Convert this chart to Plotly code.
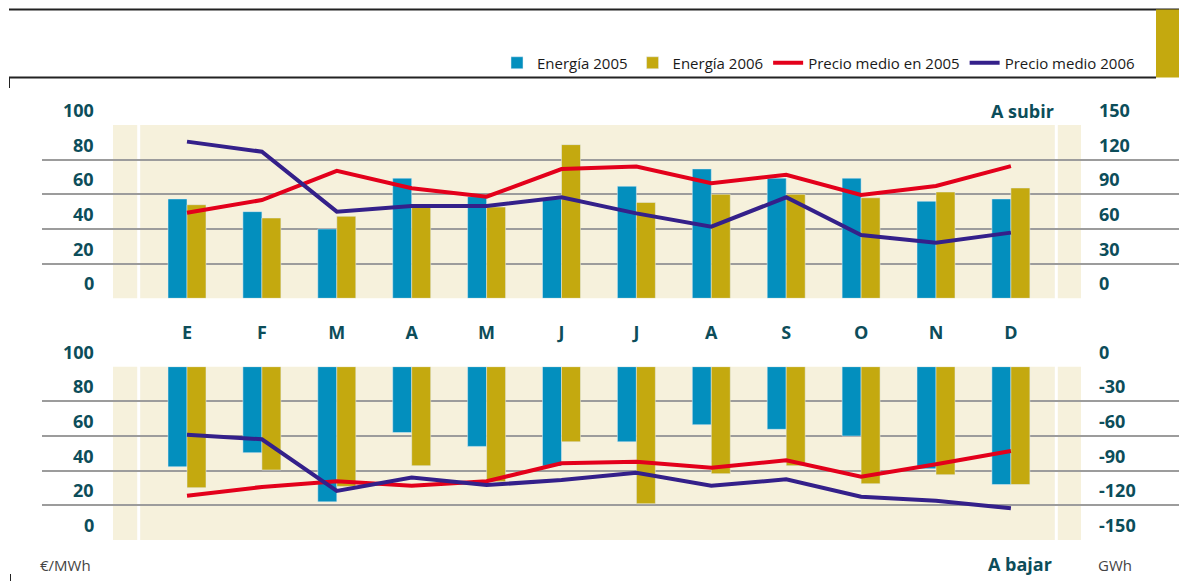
import plotly.graph_objects as go

# ---------------- data ----------------
months = ["E", "F", "M", "A", "M", "J", "J", "A", "S", "O", "N", "D"]

# upper panel ("A subir"): energy in GWh (right axis), prices in EUR/MWh (left axis)
energia_2005_subir = [86, 75, 60, 104, 88, 86, 97, 112, 104, 104, 84, 86]
energia_2006_subir = [81, 69.5, 71, 79, 79, 133, 83, 90, 90, 87, 92, 95.5]
precio_2005_subir = [49.4, 56.7, 73.5, 63.5, 58.6, 74.6, 76, 66.4, 71.3, 59.6, 64.8, 76.3]
precio_2006_subir = [90.4, 84.6, 50, 53.3, 53.3, 58.3, 49, 41.3, 58.3, 36.5, 32, 37.9]

# lower panel ("A bajar")
energia_2005_bajar = [-86.6, -74.4, -117, -57, -69, -86, -65, -50.2, -54.2, -60, -88.3, -102]
energia_2006_bajar = [-104.7, -89.4, -103.6, -85.7, -99.5, -65, -118.6, -92.6, -85.7, -101.3, -93.5, -102]
precio_2005_bajar = [25.6, 30.6, 33.9, 31.3, 33.9, 44.3, 45.2, 41.7, 46, 36.5, 43.7, 51.4]
precio_2006_bajar = [60.8, 58.1, 28.3, 36, 31.7, 34.6, 38.8, 31.3, 35, 25, 22.7, 18.3]

precio_ticks = [0, 20, 40, 60, 80, 100]
gwh_ticks_subir = [0, 30, 60, 90, 120, 150]
gwh_ticks_bajar = [0, -30, -60, -90, -120, -150]

series_names = ["Energía 2005", "Energía 2006", "Precio medio en 2005", "Precio medio 2006"]

# ---------------- style ----------------
W, H = 1179, 581
BLUE = "#038fbe"
GOLD = "#c4a90f"
RED = "#e3001b"
PURPLE = "#34208a"
BEIGE = "#f6f1dc"
GRID = "#9c9c9c"
TEAL = "#0c4d5a"
FONT = "Open Sans, Noto Sans, sans-serif"

x = list(range(len(months)))

def px_x(p):
    return p / W

def px_y(p):
    return 1 - p / H

# pixel geometry
top_dom = [px_y(298.3), px_y(125)]
bot_dom = [px_y(540), px_y(366.7)]
x_dom = [px_x(42), 1.0]
c0, step = 187.0, 74.9
x_range = [(42 - c0) / step, (W - c0) / step]

fig = go.Figure()

# upper panel bars (y) and lines (y2)
fig.add_trace(go.Bar(x=x, y=energia_2005_subir, name=series_names[0], marker_color=BLUE,
                     xaxis="x", yaxis="y", offsetgroup="a", legendgroup="a"))
fig.add_trace(go.Bar(x=x, y=energia_2006_subir, name=series_names[1], marker_color=GOLD,
                     xaxis="x", yaxis="y", offsetgroup="b", legendgroup="b"))
fig.add_trace(go.Scatter(x=x, y=precio_2005_subir, name=series_names[2], mode="lines",
                         line=dict(color=RED, width=4), xaxis="x", yaxis="y2", legendgroup="c"))
fig.add_trace(go.Scatter(x=x, y=precio_2006_subir, name=series_names[3], mode="lines",
                         line=dict(color=PURPLE, width=4), xaxis="x", yaxis="y2", legendgroup="d"))

# lower panel bars (y3) and lines (y4)
fig.add_trace(go.Bar(x=x, y=energia_2005_bajar, name=series_names[0], marker_color=BLUE,
                     xaxis="x2", yaxis="y3", offsetgroup="a", legendgroup="a", showlegend=False))
fig.add_trace(go.Bar(x=x, y=energia_2006_bajar, name=series_names[1], marker_color=GOLD,
                     xaxis="x2", yaxis="y3", offsetgroup="b", legendgroup="b", showlegend=False))
fig.add_trace(go.Scatter(x=x, y=precio_2005_bajar, name=series_names[2], mode="lines",
                         line=dict(color=RED, width=4), xaxis="x2", yaxis="y4",
                         legendgroup="c", showlegend=False))
fig.add_trace(go.Scatter(x=x, y=precio_2006_bajar, name=series_names[3], mode="lines",
                         line=dict(color=PURPLE, width=4), xaxis="x2", yaxis="y4",
                         legendgroup="d", showlegend=False))

axis_common = dict(showticklabels=False, ticks="", zeroline=False, showline=False)

fig.update_layout(
    width=W, height=H,
    margin=dict(l=0, r=0, t=0, b=0),
    paper_bgcolor="white", plot_bgcolor="rgba(0,0,0,0)",
    barmode="group", bargap=0.493, bargroupgap=0,
    font=dict(family=FONT, color=TEAL),
    xaxis=dict(domain=x_dom, range=x_range, anchor="y", showgrid=False, **axis_common),
    xaxis2=dict(domain=x_dom, range=x_range, anchor="y3", side="top", showgrid=False,
                tickvals=x, ticktext=[f"<b>{m}</b>" for m in months], showticklabels=True,
                ticks="outside", ticklen=20, tickcolor="rgba(0,0,0,0)",
                tickfont=dict(size=18, color=TEAL, family=FONT),
                zeroline=False, showline=False),
    yaxis=dict(domain=top_dom, range=[0, 150], tickvals=gwh_ticks_subir, anchor="x",
               showgrid=True, gridcolor=GRID, gridwidth=2, **axis_common),
    yaxis2=dict(domain=top_dom, range=[0, 100], overlaying="y", anchor="x",
                showgrid=False, **axis_common),
    yaxis3=dict(domain=bot_dom, range=[-150, 0], tickvals=gwh_ticks_bajar, anchor="x2",
                showgrid=True, gridcolor=GRID, gridwidth=2, **axis_common),
    yaxis4=dict(domain=bot_dom, range=[0, 100], overlaying="y3", anchor="x2",
                showgrid=False, **axis_common),
    legend=dict(orientation="h", x=px_x(1140), xanchor="right", y=px_y(63), yanchor="middle",
                font=dict(family=FONT, size=15, color="#1a1a1a"), bgcolor="rgba(0,0,0,0)",
                traceorder="normal", itemwidth=30),
)

shapes = []
for dom_ref in ["y domain", "y3 domain"]:
    # beige panel background
    shapes.append(dict(type="rect", xref="paper", yref=dom_ref, x0=px_x(113), x1=px_x(1081),
                       y0=0, y1=1, fillcolor=BEIGE, line_width=0, layer="below"))
    # white separators cutting the gridlines
    for xp in (138.7, 1056.3):
        shapes.append(dict(type="line", xref="paper", yref=dom_ref, x0=px_x(xp), x1=px_x(xp),
                           y0=-0.01, y1=1.01, line=dict(color="white", width=3), layer="between"))

# decorative frame elements
shapes.append(dict(type="line", xref="paper", yref="paper", x0=px_x(9), x1=1, y0=px_y(9.5), y1=px_y(9.5),
                   line=dict(color="#222", width=2)))
shapes.append(dict(type="line", xref="paper", yref="paper", x0=px_x(9), x1=px_x(1156), y0=px_y(77.5),
                   y1=px_y(77.5), line=dict(color="#222", width=2)))
shapes.append(dict(type="line", xref="paper", yref="paper", x0=px_x(9.5), x1=px_x(9.5), y0=px_y(77),
                   y1=px_y(88), line=dict(color="#222", width=1)))
shapes.append(dict(type="line", xref="paper", yref="paper", x0=px_x(10.5), x1=px_x(10.5), y0=px_y(574),
                   y1=px_y(581), line=dict(color="#222", width=1)))
shapes.append(dict(type="rect", xref="paper", yref="paper", x0=px_x(1156), x1=1, y0=px_y(77.5),
                   y1=px_y(9.5), fillcolor=GOLD, line_width=0))
fig.update_layout(shapes=shapes)

ann = []
label_font = dict(family=FONT, size=18, color=TEAL)
# left price labels, sitting above each gridline
for v in precio_ticks:
    ann.append(dict(text=f"<b>{v}</b>", xref="paper", yref="y2", x=px_x(96), y=v,
                    xanchor="right", yanchor="bottom", yshift=1, showarrow=False, font=label_font))
    ann.append(dict(text=f"<b>{v}</b>", xref="paper", yref="y4", x=px_x(96), y=v,
                    xanchor="right", yanchor="bottom", yshift=1, showarrow=False, font=label_font))
for v in gwh_ticks_subir:
    ann.append(dict(text=f"<b>{v}</b>", xref="paper", yref="y", x=px_x(1097), y=v,
                    xanchor="left", yanchor="bottom", yshift=1, showarrow=False, font=label_font))
for v in gwh_ticks_bajar:
    ann.append(dict(text=f"<b>{v}</b>", xref="paper", yref="y3", x=px_x(1097), y=v,
                    xanchor="left", yanchor="bottom", yshift=1, showarrow=False, font=label_font))

ann.append(dict(text="<b>A subir</b>", xref="paper", yref="paper", x=px_x(1056), y=px_y(111),
                xanchor="right", yanchor="middle", showarrow=False, font=label_font))
ann.append(dict(text="<b>A bajar</b>", xref="paper", yref="paper", x=px_x(1054), y=px_y(564),
                xanchor="right", yanchor="middle", showarrow=False, font=label_font))
ann.append(dict(text="€/MWh", xref="paper", yref="paper", x=px_x(38), y=px_y(565),
                xanchor="left", yanchor="middle", showarrow=False,
                font=dict(family=FONT, size=15, color="#444")))
ann.append(dict(text="GWh", xref="paper", yref="paper", x=px_x(1096), y=px_y(565),
                xanchor="left", yanchor="middle", showarrow=False,
                font=dict(family=FONT, size=15, color="#444")))
fig.update_layout(annotations=ann)

fig.write_html(
    "out.html",
    config={"displayModeBar": False},
    post_script="document.body.style.margin='0';document.body.style.padding='0';",
)
